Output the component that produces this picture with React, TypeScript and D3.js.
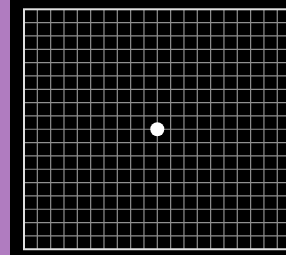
import * as d3 from 'd3';
import * as React from 'react';
import { useEffect, useRef } from 'react';

// Amsler grid: 20 columns x 18 rows, fixation dot at the centre
const gridColumns = [0, 1, 2, 3, 4, 5, 6, 7, 8, 9, 10, 11, 12, 13, 14, 15, 16, 17, 18, 19, 20];
const gridRows = [0, 1, 2, 3, 4, 5, 6, 7, 8, 9, 10, 11, 12, 13, 14, 15, 16, 17, 18];
const fixationPoint = { col: 10, row: 9 };

const WIDTH = 286;
const HEIGHT = 255;

export default function App() {
  const mountPoint = useRef<SVGSVGElement | null>(null);

  useEffect(() => {
    if (!mountPoint.current) return;
    const svg = d3.select(mountPoint.current);
    svg.selectAll('*').remove();

    const cell = 13.33;
    const left = 24;
    const top = 9.3;
    const x = d3.scaleLinear().domain([0, 20]).range([left, left + 20 * cell]);
    const y = d3.scaleLinear().domain([0, 18]).range([top, top + 18 * cell]);

    svg.append('rect').attr('x', 0).attr('y', 0).attr('width', 10).attr('height', HEIGHT).attr('fill', '#b07cc0');
    svg.append('rect').attr('x', 10).attr('y', 0).attr('width', WIDTH - 10).attr('height', HEIGHT).attr('fill', '#000');

    const g = svg.append('g');
    g.selectAll('line.v')
      .data(gridColumns.slice(1, -1))
      .enter().append('line')
      .attr('class', 'v')
      .attr('x1', d => x(d)).attr('x2', d => x(d))
      .attr('y1', y(0)).attr('y2', y(18))
      .attr('stroke', '#909090')
      .attr('stroke-width', 1.2);

    g.selectAll('line.h')
      .data(gridRows.slice(1, -1))
      .enter().append('line')
      .attr('class', 'h')
      .attr('x1', x(0)).attr('x2', x(20))
      .attr('y1', d => y(d)).attr('y2', d => y(d))
      .attr('stroke', '#909090')
      .attr('stroke-width', 1.2);

    g.append('rect')
      .attr('x', x(0)).attr('y', y(0))
      .attr('width', x(20) - x(0)).attr('height', y(18) - y(0))
      .attr('fill', 'none')
      .attr('stroke', '#e0e0e0')
      .attr('stroke-width', 2);

    g.append('circle')
      .attr('cx', x(fixationPoint.col))
      .attr('cy', y(fixationPoint.row))
      .attr('r', 7)
      .attr('fill', '#fff');
  }, []);

  return (
    <svg
      ref={mountPoint}
      width={WIDTH}
      height={HEIGHT}
      style={{ position: 'fixed', left: 0, top: 0, display: 'block' }}
    />
  );
}
